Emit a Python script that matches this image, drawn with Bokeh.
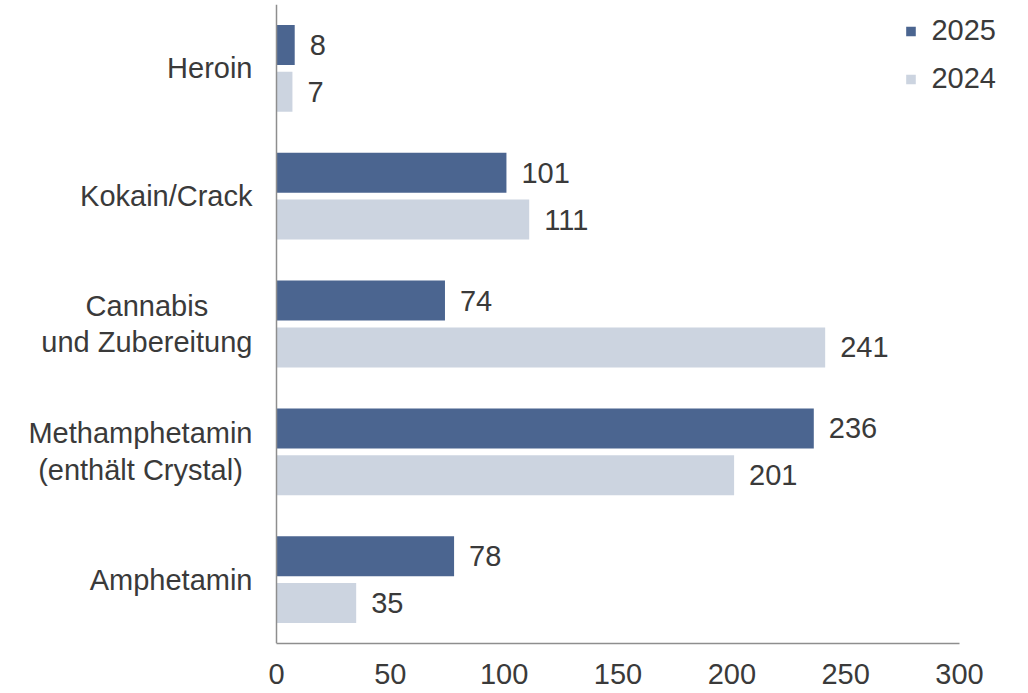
from bokeh.plotting import figure
from bokeh.models import (ColumnDataSource, Range1d, FixedTicker, LabelSet, Label,
                          Legend, LegendItem, Span)
from bokeh.core.properties import value
from bokeh.transform import dodge
from bokeh.embed import file_html
from bokeh.resources import INLINE

categories = ["Heroin", "Kokain/Crack", "Cannabis\nund Zubereitung",
              "Methamphetamin\n(enthält Crystal)", "Amphetamin"]
values_2025 = [8, 101, 74, 236, 78]
values_2024 = [7, 111, 241, 201, 35]
x_ticks = [0, 50, 100, 150, 200, 250, 300]
series_names = ["2025", "2024"]

C25 = "#4b6590"
C24 = "#ccd4e0"
TXT = "#3a3a3a"
FONT = "Liberation Sans"
FS = "29px"
AXIS = "#8e8e8e"

# layout: frame spans the whole width; value 0 sits 276 px from the left,
# 300 sits at 959 px
W, H = 1028, 693
X0_PX, X300_PX, FRAME_RIGHT = 276, 959, 1006
scale = (X300_PX - X0_PX) / 300.0
x_start = -X0_PX / scale
x_end = (FRAME_RIGHT - X0_PX) / scale

n = len(categories)
ypos = [n - 1 - i for i in range(n)]
src = ColumnDataSource(dict(y=ypos, v25=values_2025, v24=values_2024,
                            t25=[str(v) for v in values_2025],
                            t24=[str(v) for v in values_2024]))

p = figure(width=W, height=H, output_backend="svg", toolbar_location=None,
           x_range=Range1d(x_start, x_end), y_range=Range1d(-0.5, n - 0.5),
           min_border_left=0, min_border_right=W - FRAME_RIGHT, min_border_top=4,
           min_border_bottom=50)
p.outline_line_color = None
p.grid.grid_line_color = None
p.yaxis.visible = False

r25 = p.hbar(y=dodge("y", 0.183), right="v25", left=0, height=0.313, source=src,
             fill_color=C25, line_color=None)
r24 = p.hbar(y=dodge("y", -0.183), right="v24", left=0, height=0.313, source=src,
             fill_color=C24, line_color=None)

for col, off in (("25", 0.183), ("24", -0.183)):
    p.add_layout(LabelSet(x="v" + col, y=dodge("y", off), text="t" + col, source=src,
                          x_offset=15, text_baseline="middle", text_align="left",
                          text_font=value(FONT), text_font_size=FS, text_color=TXT))

# vertical axis line at 0
p.add_layout(Span(location=0, dimension="height", line_color=AXIS, line_width=1.5))

xa = p.xaxis[0]
xa.ticker = FixedTicker(ticks=x_ticks)
xa.bounds = (0, 300)
xa.major_tick_out = 0
xa.major_tick_in = 0
xa.minor_tick_out = 0
xa.minor_tick_in = 0
xa.axis_line_color = AXIS
xa.axis_line_width = 1.5
xa.major_label_text_font = FONT
xa.major_label_text_font_size = FS
xa.major_label_text_color = TXT
xa.major_label_standoff = 20

# category labels: block anchored right of the axis, lines centred within the block
for yv, cat in zip(ypos, categories):
    p.add_layout(Label(x=0, y=yv, text=cat, anchor="center_right", text_align="center",
                       x_offset=-24, text_font=FONT, text_font_size=FS,
                       text_color=TXT, text_line_height=1.15))

legend = Legend(items=[LegendItem(label=series_names[0], renderers=[r25]),
                       LegendItem(label=series_names[1], renderers=[r24])],
                location="top_right", margin=10, padding=0, spacing=15,
                glyph_width=12, glyph_height=12, label_standoff=15,
                label_text_font=FONT, label_text_font_size=FS, label_text_color=TXT,
                border_line_color=None, background_fill_alpha=0)
p.add_layout(legend)

open("out.html", "w").write(file_html(p, INLINE))
